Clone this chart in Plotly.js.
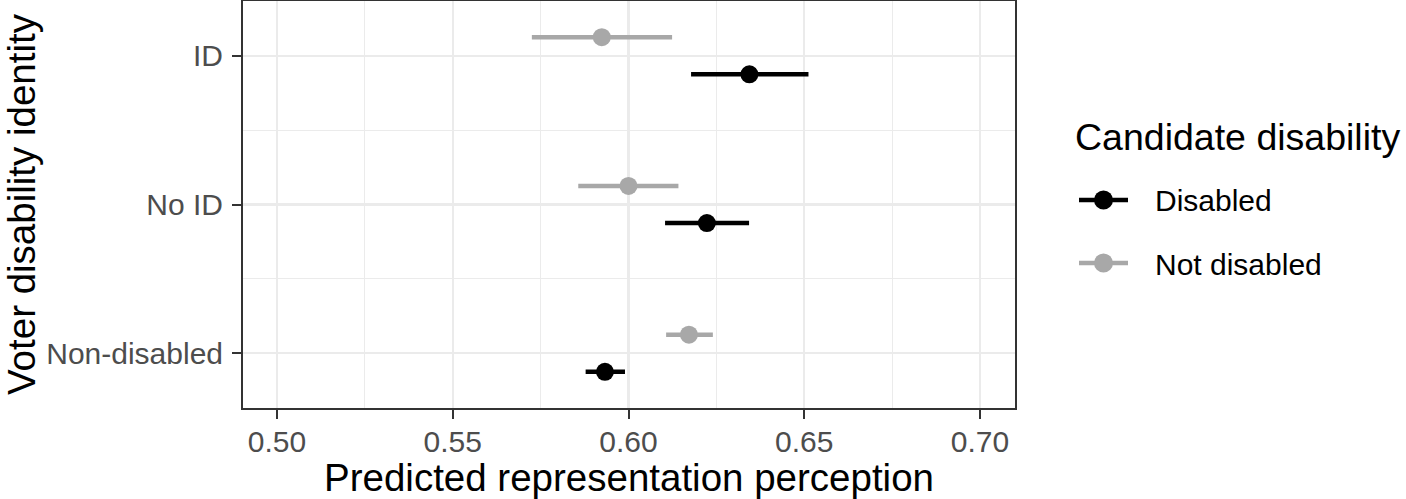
<!DOCTYPE html>
<html>
<head>
<meta charset="utf-8">
<script src="https://cdn.plot.ly/plotly-3.0.1.min.js"></script>
<style>html,body{margin:0;padding:0;background:#fff;}#chart{width:1406px;height:499px;}</style>
</head>
<body>
<div id="chart"></div>
<script>
// Voter disability identity categories (bottom to top on the axis)
const categories = ["Non-disabled", "No ID", "ID"];
const seriesNames = ["Disabled", "Not disabled"];

// Candidate disabled
const disabledEst = [0.5933, 0.6223, 0.6344];
const disabledLow = [0.5878, 0.6104, 0.6178];
const disabledHigh = [0.5990, 0.6343, 0.6512];

// Candidate not disabled
const notDisabledEst = [0.6172, 0.6000, 0.5924];
const notDisabledLow = [0.6107, 0.5857, 0.5725];
const notDisabledHigh = [0.6240, 0.6142, 0.6124];

const xTicks = [0.50, 0.55, 0.60, 0.65, 0.70];
const xTickText = ["0.50", "0.55", "0.60", "0.65", "0.70"];
const legendTitle = "Candidate disability";

const colors = {"Disabled": "#000000", "Not disabled": "#A8A8A8"};
const dodge = {"Disabled": -0.125, "Not disabled": 0.125};
const FONT = "Liberation Sans, Arial, sans-serif";

const W = 1406, H = 499;
const M = {l: 243, r: 391, t: 1, b: 91};
const plotW = W - M.l - M.r, plotH = H - M.t - M.b;
const px2paperX = px => (px - M.l) / plotW;
const py2paperY = py => (H - M.b - py) / plotH;

const catPos = categories.map((c, i) => i + 1);

function seriesTrace(name, est, low, high) {
  return {
    type: "scatter",
    mode: "markers",
    name: name,
    showlegend: false,
    x: est,
    y: catPos.map(p => p + dodge[name]),
    marker: {color: colors[name], size: 18},
    error_x: {
      type: "data", symmetric: false,
      array: est.map((v, i) => high[i] - v),
      arrayminus: est.map((v, i) => v - low[i]),
      color: colors[name], thickness: 4.5, width: 0
    },
    hoverinfo: "x+y"
  };
}

const data = [
  seriesTrace("Not disabled", notDisabledEst, notDisabledLow, notDisabledHigh),
  seriesTrace("Disabled", disabledEst, disabledLow, disabledHigh)
];

// Manual legend (keys drawn like ggplot's pointrange key)
const shapes = [];
const annotations = [{
  xref: "paper", yref: "paper",
  x: px2paperX(1073), y: py2paperY(137),
  xanchor: "left", yanchor: "middle", showarrow: false,
  text: legendTitle, font: {size: 37.5, color: "#000000", family: FONT}
}];
const legendRows = [200, 263];
seriesNames.forEach((name, i) => {
  const cy = py2paperY(legendRows[i]);
  shapes.push({
    type: "line", xref: "paper", yref: "paper",
    x0: px2paperX(1079), x1: px2paperX(1128), y0: cy, y1: cy,
    line: {color: colors[name], width: 4.5}
  });
  shapes.push({
    type: "circle", xref: "paper", yref: "paper",
    xsizemode: "pixel", ysizemode: "pixel",
    xanchor: px2paperX(1103.5), yanchor: cy,
    x0: -9.5, x1: 9.5, y0: -9.5, y1: 9.5,
    fillcolor: colors[name], line: {width: 0}
  });
  annotations.push({
    xref: "paper", yref: "paper",
    x: px2paperX(1153), y: py2paperY(legendRows[i] + 1),
    xanchor: "left", yanchor: "middle", showarrow: false,
    text: name, font: {size: 30, color: "#000000", family: FONT}
  });
});

const layout = {
  width: W, height: H,
  margin: M,
  paper_bgcolor: "#ffffff", plot_bgcolor: "#ffffff",
  font: {family: FONT, color: "#000000"},
  showlegend: false,
  xaxis: {
    range: [0.49032, 0.70996],
    tickvals: xTicks, ticktext: xTickText,
    tickfont: {size: 30, color: "#4D4D4D", family: FONT},
    ticks: "outside", ticklen: 9, tickwidth: 2, tickcolor: "#333333",
    ticklabelstandoff: -3,
    showgrid: true, gridcolor: "#EBEBEB", gridwidth: 2.2,
    minor: {tickvals: [0.525, 0.575, 0.625, 0.675], showgrid: true, gridcolor: "#EBEBEB", gridwidth: 1.2, ticks: ""},
    showline: true, mirror: true, linecolor: "#333333", linewidth: 2,
    zeroline: false,
    title: {text: "Predicted representation perception", font: {size: 38.5, color: "#000000", family: FONT}, standoff: 4}
  },
  yaxis: {
    range: [0.632, 3.368],
    tickvals: catPos, ticktext: categories,
    tickfont: {size: 30, color: "#4D4D4D", family: FONT},
    ticks: "outside", ticklen: 9, tickwidth: 2, tickcolor: "#333333",
    ticklabelstandoff: 3,
    showgrid: true, gridcolor: "#EBEBEB", gridwidth: 2.2,
    minor: {tickvals: [1.5, 2.5], showgrid: true, gridcolor: "#EBEBEB", gridwidth: 1.2, ticks: ""},
    showline: true, mirror: true, linecolor: "#333333", linewidth: 2,
    zeroline: false,
    title: {text: "Voter disability identity", font: {size: 38.5, color: "#000000", family: FONT}, standoff: 0}
  },
  shapes: shapes,
  annotations: annotations
};

Plotly.newPlot("chart", data, layout, {displayModeBar: false, staticPlot: true});
</script>
</body>
</html>
